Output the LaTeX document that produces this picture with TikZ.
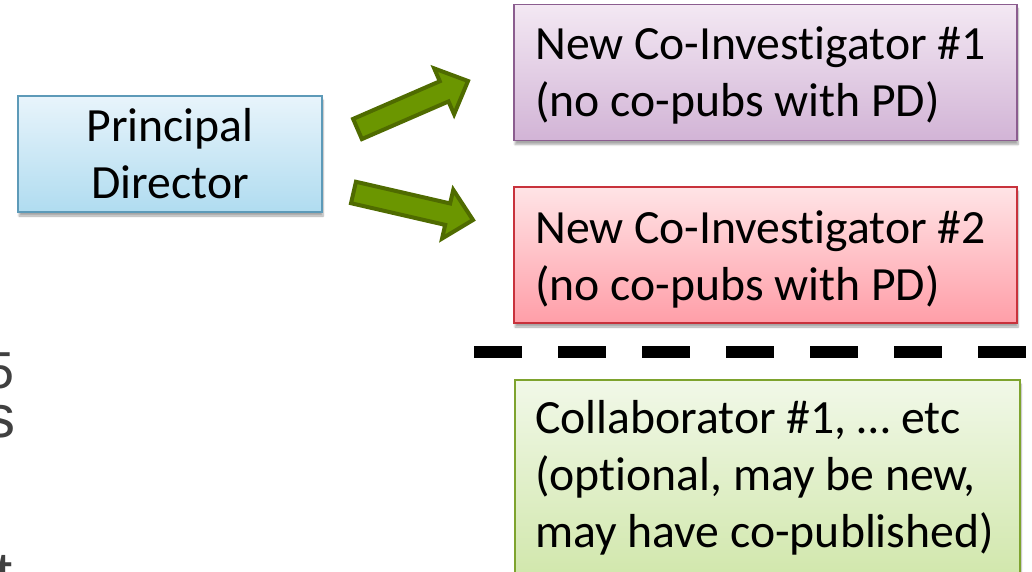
\documentclass[tikz,border=0pt]{standalone}
\usepackage{fontspec}
\setmainfont{Carlito}[Ligatures={NoCommon}]
\newfontfamily\arialfont{Liberation Sans}
\usetikzlibrary{calc,shadows.blur}
\definecolor{pdtop}{HTML}{E8F4FB}
\definecolor{pdbot}{HTML}{B0DCF0}
\definecolor{pdline}{HTML}{5D9AB8}
\definecolor{putop}{HTML}{F3E8F3}
\definecolor{pubot}{HTML}{D2B4D6}
\definecolor{puline}{HTML}{8B5D8F}
\definecolor{retop}{HTML}{FFE4E6}
\definecolor{rebot}{HTML}{FF9EA8}
\definecolor{reline}{HTML}{C8323C}
\definecolor{grtop}{HTML}{F1F8E8}
\definecolor{grbot}{HTML}{CFE6A8}
\definecolor{grline}{HTML}{7EA32E}
\definecolor{arfill}{HTML}{6B9600}
\definecolor{arline}{HTML}{4F6B00}
\definecolor{fragtext}{HTML}{404040}
\begin{document}
\begin{tikzpicture}[x=1pt,y=-1pt,
  box/.style={draw, line width=1.5pt, inner sep=0pt,
    blur shadow={shadow xshift=1pt, shadow yshift=-4pt, shadow blur steps=6, shadow opacity=35}},
  pdbox/.style={box, draw=pdline, top color=pdtop, bottom color=pdbot,
    minimum width=304pt, minimum height=116pt},
  rbox/.style={box, minimum width=503pt, minimum height=136pt},
  txt/.style={inner sep=0pt, font=\fontsize{47.7pt}{57pt}\selectfont},
  ltxt/.style={txt, align=left, anchor=base west},
  fatarrow/.style={draw=arline, fill=arfill, line width=4pt, line join=miter},
  sep/.style={line width=12pt, dash pattern=on 48pt off 36pt},
  frag/.style={text=fragtext, inner sep=0pt, anchor=base east}
]
\useasboundingbox (0,0) rectangle (1032,572);
\clip (0,0) rectangle (1032,572);

% left cut-off fragments
\node[frag, font=\arialfont\fontsize{52pt}{60pt}\selectfont] (f1) at (15,388) {5};
\node[frag, font=\arialfont\fontsize{60pt}{70pt}\selectfont] (f2) at (16,437) {s};
\node[frag, font=\arialfont\fontsize{62pt}{70pt}\selectfont] (f3) at (13,595) {t};

% boxes (text anchored at the baseline of its last line)
\node[pdbox] (pd) at (170,154) {};
\node[txt, align=center, anchor=base] (pdt) at (170,198) {Principal\\Director};

\node[rbox, draw=puline, top color=putop, bottom color=pubot] (ci1) at (765.5,72.5) {};
\node[ltxt] (ci1t) at (535,117) {New Co-Investigator \#1\\(no co-pubs with PD)};

\node[rbox, draw=reline, top color=retop, bottom color=rebot] (ci2) at (765.5,255) {};
\node[ltxt] (ci2t) at (535,300) {New Co-Investigator \#2\\(no co-pubs with PD)};

\node[box, draw=grline, top color=grtop, bottom color=grbot,
  minimum width=505pt, minimum height=210pt] (col) at (767.5,485) {};
\node[ltxt] (colt) at (535,547)
  {Collaborator \#1, … etc\\(optional, may be new,\\may have co-published)};

% separator
\coordinate (d1) at (474,352);
\coordinate (d2) at (1060,352);
\draw[sep] (d1) -- (d2);

% block arrows
\coordinate (t1) at (357.5,129);
\coordinate (h1) at (468,81);
\coordinate (b1) at ($(h1)!26pt!(t1)$);
\path[fatarrow] ($(t1)!11pt!90:(h1)$) -- ($(b1)!11pt!-90:(t1)$) -- ($(b1)!25pt!-90:(t1)$)
  -- (h1) -- ($(b1)!25pt!90:(t1)$) -- ($(b1)!11pt!90:(t1)$) -- ($(t1)!11pt!-90:(h1)$) -- cycle;

\coordinate (t2) at (353.5,192.5);
\coordinate (h2) at (473,220);
\coordinate (b2) at ($(h2)!26pt!(t2)$);
\path[fatarrow] ($(t2)!11pt!90:(h2)$) -- ($(b2)!11pt!-90:(t2)$) -- ($(b2)!25pt!-90:(t2)$)
  -- (h2) -- ($(b2)!25pt!90:(t2)$) -- ($(b2)!11pt!90:(t2)$) -- ($(t2)!11pt!-90:(h2)$) -- cycle;
\end{tikzpicture}
\end{document}
